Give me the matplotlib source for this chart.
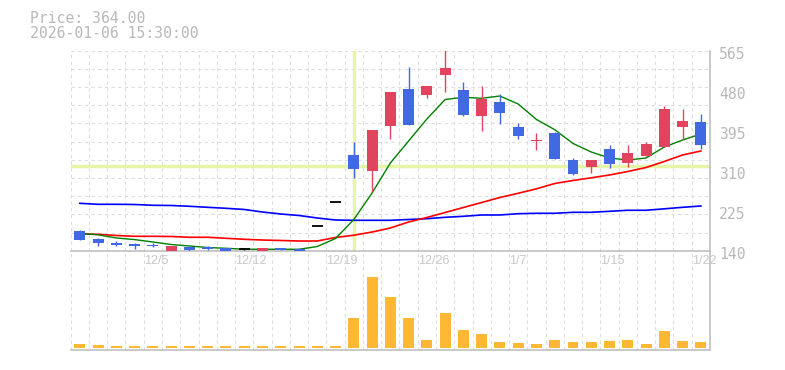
import matplotlib
matplotlib.use('Agg')
import matplotlib.pyplot as plt
import matplotlib.transforms as mtransforms
import numpy as np

# trading days 2025-12-01 .. 2026-01-22
dates = ['12/1', '12/2', '12/3', '12/4', '12/5', '12/8', '12/9', '12/10', '12/11', '12/12',
         '12/15', '12/16', '12/17', '12/18', '12/19', '12/22', '12/23', '12/24', '12/25', '12/26',
         '12/29', '12/30', '1/5', '1/6', '1/7', '1/8', '1/9', '1/13', '1/14', '1/15',
         '1/16', '1/19', '1/20', '1/21', '1/22']

opens = [181.9, 165.5, 157.4, 154.2, 152.8, 139.0, 148.5, 147.2, 145.1, 143.6,
         138.0, 145.7, 144.3, 192.5, 242.9, 343.4, 310.0, 405.6, 483.6, 471.5,
         514.0, 481.5, 426.2, 456.0, 402.2, 372.5, 390.1, 332.7, 318.5, 356.1,
         326.4, 341.2, 360.4, 402.9, 413.5]
highs = [184.0, 167.6, 160.0, 157.0, 155.7, 150.6, 150.0, 150.0, 145.1, 146.0,
         145.7, 146.5, 145.0, 192.5, 242.9, 371.0, 396.5, 477.2, 530.4, 490.0,
         570.0, 498.5, 490.0, 473.0, 411.4, 389.5, 392.9, 337.0, 332.7, 364.6,
         364.0, 371.6, 447.5, 441.1, 430.5]
lows = [162.7, 150.6, 150.0, 144.3, 148.5, 136.0, 140.0, 140.9, 138.0, 141.0,
        137.0, 141.0, 138.0, 192.5, 242.9, 295.1, 265.4, 378.0, 407.8, 465.1,
        477.9, 426.2, 395.0, 409.9, 378.0, 354.0, 335.5, 301.5, 305.8, 315.7,
        317.9, 341.2, 360.4, 378.0, 356.8]
closes = [162.7, 155.7, 152.7, 150.0, 150.0, 150.6, 141.5, 143.6, 139.0, 143.6,
          145.7, 141.5, 139.0, 192.5, 242.9, 314.3, 396.5, 477.2, 407.8, 490.0,
          528.2, 428.4, 462.4, 433.3, 384.4, 375.2, 335.5, 303.0, 332.7, 324.2,
          347.6, 366.7, 441.1, 416.3, 364.0]

ma5 = [176.6, 173.8, 167.0, 163.6, 158.5, 153.2, 150.0, 146.8, 145.1, 143.2,
       143.0, 143.0, 143.0, 148.9, 165.9, 206.3, 262.6, 326.4, 373.1, 419.9,
       461.3, 466.0, 463.9, 468.7, 451.7, 418.8, 397.1, 367.8, 349.7, 337.0,
       332.7, 337.0, 360.4, 375.2, 388.0]
ma25 = [175.5, 174.9, 172.3, 170.6, 170.6, 170.2, 168.5, 168.5, 166.4, 164.2,
        162.7, 161.7, 160.6, 160.6, 168.1, 172.9, 179.7, 188.2, 201.0, 210.6,
        221.2, 231.8, 242.4, 253.1, 262.0, 271.5, 282.8, 289.2, 294.9, 300.9,
        308.3, 316.8, 329.6, 343.4, 351.9]
ma75 = [240.7, 238.6, 238.6, 238.2, 236.5, 236.1, 234.4, 232.2, 230.1, 227.6,
        222.2, 218.0, 214.8, 209.5, 205.2, 204.6, 204.6, 204.6, 206.3, 208.0,
        211.0, 213.1, 215.9, 215.9, 218.6, 219.5, 219.5, 221.6, 221.6, 223.7,
        225.9, 225.9, 229.0, 232.2, 235.0]

volume = [110, 80, 50, 50, 50, 50, 50, 50, 50, 50, 50, 50, 50, 50, 50,
          890, 2120, 1520, 890, 230, 1040, 530, 410, 170, 140, 110, 230, 170, 170, 200,
          230, 110, 500, 200, 170]

label_idx = [4, 9, 14, 19, 24, 29, 34]
price_ticks = [140, 225, 310, 395, 480, 565]
cursor_idx = 15
cursor_price = 320.5

UP = '#e0445e'
DOWN = '#4169e1'
GRID = '#dddddd'
AXIS = '#c0c0c0'
TEXT = '#b8b8b8'
MONO = 'DejaVu Sans Mono'

n = len(closes)
x = np.arange(n) + 0.5

fig = plt.figure(figsize=(7.85, 3.7), dpi=100)
axv = fig.add_axes([70.7 / 785, 20 / 370, 639.3 / 785, 99.3 / 370])
ax = fig.add_axes([70.7 / 785, (370 - 250.7) / 370, 639.3 / 785, 200 / 370])
ax.patch.set_visible(False)

for a in (ax, axv):
    a.set_xlim(0, n)
    a.xaxis.remove_overlapping_locs = False
    a.set_xticks(np.arange(n + 1), minor=True)
    a.grid(which='minor', axis='x', ls=(0, (3, 3)), color=GRID, lw=0.8)
    a.tick_params(which='both', length=0)
    for s in ('top', 'left'):
        a.spines[s].set_visible(False)
    for s in ('right', 'bottom'):
        a.spines[s].set_color(AXIS)
        a.spines[s].set_linewidth(1.2)
    a.set_axisbelow(True)

# price panel
ax.set_ylim(price_ticks[0], price_ticks[-1])
ax.yaxis.remove_overlapping_locs = False
ax.set_yticks(np.linspace(price_ticks[0], price_ticks[-1], 12), minor=True)
ax.grid(which='minor', axis='y', ls=(0, (3, 3)), color=GRID, lw=0.8)
ax.yaxis.tick_right()
ax.set_yticks(price_ticks)
ax.set_yticklabels([str(p) for p in price_ticks], family=MONO, fontsize=10.6, color=TEXT)
ax.tick_params(axis='y', pad=6.5)
shift = mtransforms.ScaledTranslation(0, -2.5 / 100, fig.dpi_scale_trans)
for lbl in ax.get_yticklabels():
    lbl.set_transform(lbl.get_transform() + shift)
ax.set_xticks(label_idx)
ax.set_xticklabels([dates[i] for i in label_idx], family='Liberation Sans', fontsize=9,
                   color='#c8c8c8', ha='left')
ax.tick_params(axis='x', pad=3)

ax.axvline(x[cursor_idx], color='#e6f5a8', lw=2.5, zorder=1)
ax.axhline(cursor_price, color='#e6f5a8', lw=2.5, zorder=1)

ax.plot(x, ma75, color='#0000ff', lw=1.2, zorder=2)
ax.plot(x, ma25, color='#ff0000', lw=1.2, zorder=2)
ax.plot(x, ma5, color='#008000', lw=1.0, zorder=2)

for i in range(n):
    o, h, l, c = opens[i], highs[i], lows[i], closes[i]
    if c == o:
        ax.vlines(x[i], l, h, color='black', lw=1, zorder=3)
        ax.hlines(o, x[i] - 0.3, x[i] + 0.3, color='black', lw=1.3, zorder=3)
        continue
    col = UP if c > o else DOWN
    ax.vlines(x[i], l, h, color=col, lw=1, zorder=3)
    ax.bar(x[i], abs(c - o), bottom=min(o, c), width=0.6, color=col, zorder=3)

# volume panel
axv.bar(x, volume, width=0.6, color='#ffb833', zorder=2)
axv.set_ylim(-69, 2910)
axv.set_yticks([])
axv.set_xticks([])

fig.text(30 / 785, 1 - 23 / 370, 'Price: 364.00', family=MONO, fontsize=10.6,
         color=TEXT, va='baseline')
fig.text(30 / 785, 1 - 38 / 370, '2026-01-06 15:30:00', family=MONO, fontsize=10.6,
         color=TEXT, va='baseline')

fig.savefig('out.png', dpi=100)
